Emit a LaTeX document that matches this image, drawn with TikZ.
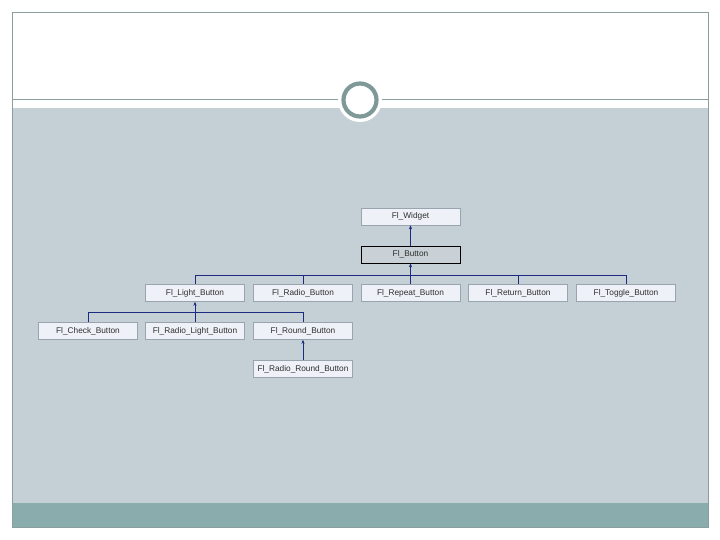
\documentclass[tikz,border=0pt]{standalone}
\usepackage{fontspec}
\setmainfont{Liberation Sans}
\usetikzlibrary{arrows.meta}
\definecolor{midbg}{HTML}{C5D0D6}
\definecolor{band}{HTML}{8AACAC}
\definecolor{framec}{HTML}{8A9E9E}
\definecolor{ringc}{HTML}{7F9999}
\definecolor{boxfill}{HTML}{EEF2F8}
\definecolor{boxdraw}{HTML}{9AA4AE}
\definecolor{curfill}{HTML}{C9D1D6}
\definecolor{navy}{HTML}{1C2A80}
\definecolor{txt}{HTML}{2E2E2E}
\tikzset{
  cls/.style={draw=boxdraw, fill=boxfill, line width=0.6pt, minimum width=99pt, minimum height=17pt, inner sep=0pt, font=\fontsize{8.3}{9}\selectfont, text=txt},
  curcls/.style={cls, draw=black, fill=curfill},
  inh/.style={draw=navy, line width=0.7pt},
  inharr/.style={inh, -{Stealth[length=4pt,width=3.2pt]}}
}
\begin{document}
\begin{tikzpicture}[x=1pt,y=-1pt]
\useasboundingbox (0,0) rectangle (720,540);
\fill[white] (0,0) rectangle (720,540);
% slide background
\fill[white] (12,12) rectangle (708,108);
\fill[midbg] (12,108) rectangle (708,503);
\fill[band] (12,503) rectangle (708,527);
\draw[framec, line width=0.8pt] (12,12) rectangle (708,527);
\draw[framec, line width=0.8pt] (12,99) -- (708,99);
% circle ornament
\fill[white] (360,100) circle (22);
\draw[ringc, line width=4.2pt] (360,100) circle (16.5);
% nodes
\node[cls] (widget) at (410.5,216.5) {Fl\_Widget};
\node[curcls] (button) at (410.5,254.5) {Fl\_Button};
\node[cls] (light) at (195,293) {Fl\_Light\_Button};
\node[cls] (radio) at (303,293) {Fl\_Radio\_Button};
\node[cls] (repeat) at (410.5,293) {Fl\_Repeat\_Button};
\node[cls] (return) at (518,293) {Fl\_Return\_Button};
\node[cls] (toggle) at (626,293) {Fl\_Toggle\_Button};
\node[cls] (check) at (88,331) {Fl\_Check\_Button};
\node[cls] (radiolight) at (195,331) {Fl\_Radio\_Light\_Button};
\node[cls] (round) at (303,331) {Fl\_Round\_Button};
\node[cls] (radioround) at (303,369) {Fl\_Radio\_Round\_Button};
% connectors
\draw[inharr] (button.north) -- (widget.south);
\coordinate (busA) at (410.5,275);
\draw[inharr] (busA) -- (button.south);
\draw[inh] (light.north |- busA) -- (toggle.north |- busA);
\foreach \n in {light,radio,repeat,return,toggle}
  \draw[inh] (\n.north |- busA) -- (\n.north);
\coordinate (busB) at (195,312);
\draw[inharr] (busB) -- (light.south);
\draw[inh] (check.north |- busB) -- (round.north |- busB);
\foreach \n in {check,radiolight,round}
  \draw[inh] (\n.north |- busB) -- (\n.north);
\draw[inharr] (radioround.north) -- (round.south);
\end{tikzpicture}
\end{document}
